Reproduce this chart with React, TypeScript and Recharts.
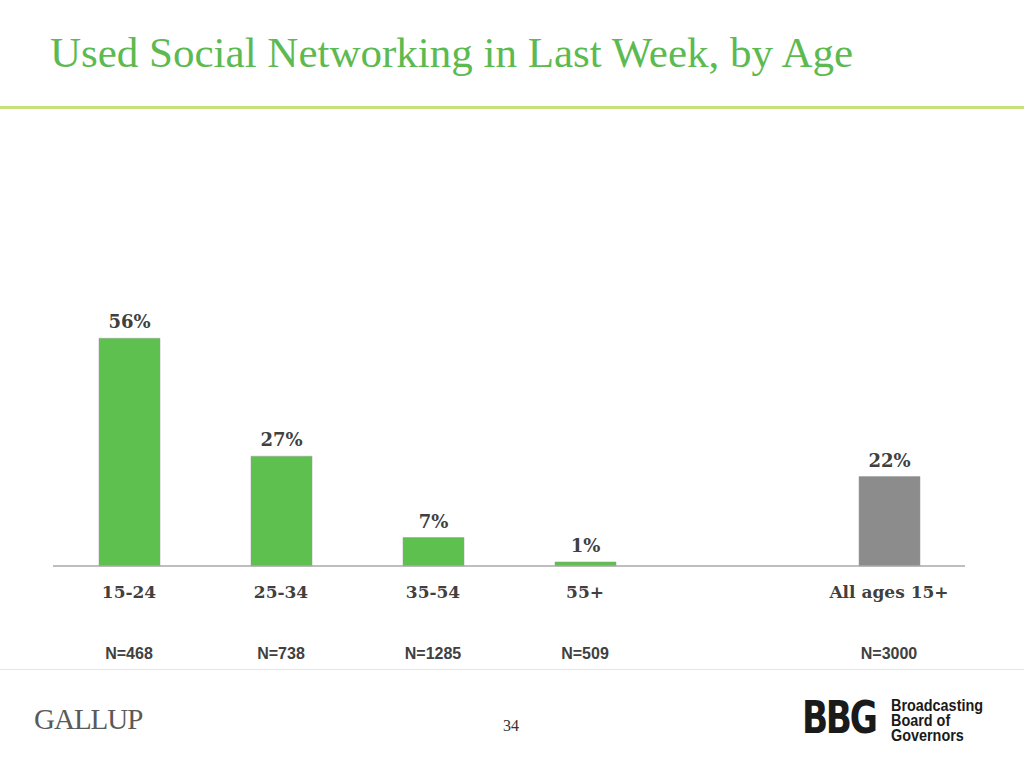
import { BarChart, Bar, XAxis, YAxis, LabelList, Cell } from 'recharts'

const categories = ['15-24', '25-34', '35-54', '55+', ' ', 'All ages 15+']
const shares = [56, 27, 7, 1, null, 22]
const sampleSizes = ['N=468', 'N=738', 'N=1285', 'N=509', '', 'N=3000']
const barColors = ['#5ec04f', '#5ec04f', '#5ec04f', '#5ec04f', '#5ec04f', '#8c8c8c']

const data = categories.map((name, i) => ({ name, value: shares[i], n: sampleSizes[i] }))

const serif = '"DejaVu Serif", Georgia, serif'
const sans = '"Liberation Sans", Arial, sans-serif'

function AgeTick(props: any) {
  const { x, y, payload, index } = props
  return (
    <g>
      <text
        x={x}
        y={y + 24}
        textAnchor="middle"
        fontFamily={serif}
        fontWeight="bold"
        fontSize={17}
        fill="#404040"
      >
        {payload.value}
      </text>
      <text
        x={x}
        y={y + 85}
        textAnchor="middle"
        fontFamily={sans}
        fontWeight="bold"
        fontSize={16}
        fill="#404040"
      >
        {data[index] ? data[index].n : ''}
      </text>
    </g>
  )
}

export default function App() {
  return (
    <div
      style={{
        position: 'absolute',
        left: 0,
        top: 0,
        width: 1024,
        height: 768,
        background: '#fff',
        overflow: 'hidden',
      }}
    >
      <div
        style={{
          position: 'absolute',
          left: 50,
          top: 28,
          fontFamily: '"Liberation Serif", "Times New Roman", serif',
          fontSize: 43,
          color: '#5cba50',
          whiteSpace: 'nowrap',
        }}
      >
        Used Social Networking in Last Week, by Age
      </div>
      <div style={{ position: 'absolute', left: 0, top: 106, width: 1024, height: 3, background: '#c6e27a' }} />

      <div style={{ position: 'absolute', left: 0, top: 0 }}>
        <BarChart
          width={1024}
          height={768}
          data={data}
          margin={{ top: 322, right: 59, bottom: 102, left: 53 }}
          barSize={61}
        >
          <YAxis hide domain={[0, 60]} />
          <XAxis
            dataKey="name"
            height={100}
            axisLine={{ stroke: '#a8a8a8', strokeWidth: 1.5 }}
            tickLine={false}
            interval={0}
            tick={<AgeTick />}
          />
          <Bar dataKey="value" isAnimationActive={false} stroke="#9a9a9a" strokeWidth={0.5}>
            {data.map((d, i) => (
              <Cell key={d.name} fill={barColors[i]} />
            ))}
            <LabelList
              dataKey="value"
              position="top"
              offset={10}
              formatter={(v: any) => (v == null ? '' : `${v}%`)}
              style={{ fontFamily: serif, fontWeight: 'bold', fontSize: 18, fill: '#404040' }}
            />
          </Bar>
        </BarChart>
      </div>

      <div style={{ position: 'absolute', left: 0, top: 669, width: 1024, height: 1, background: '#e4e4e4' }} />

      <div
        style={{
          position: 'absolute',
          left: 34,
          top: 703,
          fontFamily: '"Liberation Serif", "Times New Roman", serif',
          fontSize: 29,
          color: '#5a5a5a',
          letterSpacing: -1,
        }}
      >
        GALLUP
      </div>
      <div
        style={{
          position: 'absolute',
          left: 503,
          top: 717,
          fontFamily: '"Liberation Serif", "Times New Roman", serif',
          fontSize: 16,
          color: '#333',
        }}
      >
        34
      </div>
      <div
        style={{
          position: 'absolute',
          left: 802,
          top: 692,
          fontFamily: '"DejaVu Sans", sans-serif',
          fontWeight: 'bold',
          fontSize: 44,
          color: '#1a1a1a',
          letterSpacing: -3,
          transform: 'scaleX(0.78)',
          transformOrigin: 'left top',
        }}
      >
        BBG
      </div>
      <div
        style={{
          position: 'absolute',
          left: 891,
          top: 698,
          fontFamily: sans,
          fontWeight: 'bold',
          fontSize: 16,
          lineHeight: '15px',
          color: '#1a1a1a',
          transform: 'scaleX(0.9)',
          transformOrigin: 'left top',
        }}
      >
        Broadcasting
        <br />
        Board of
        <br />
        Governors
      </div>
    </div>
  )
}
